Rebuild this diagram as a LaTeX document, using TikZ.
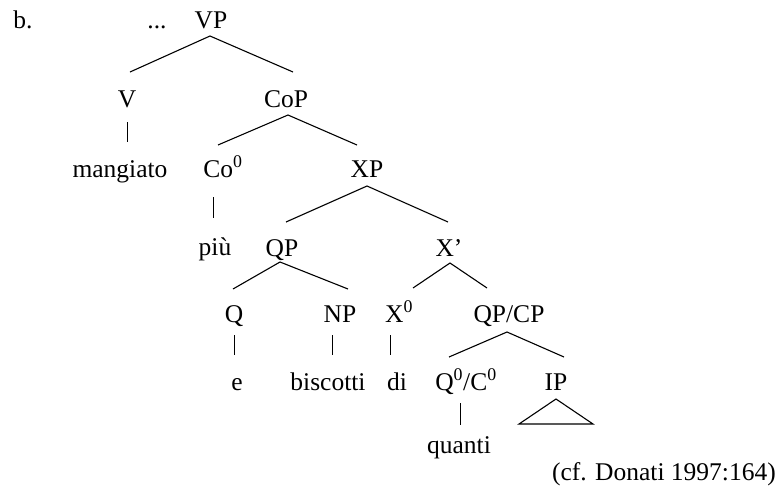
\documentclass[tikz,border=0pt]{standalone}
\usepackage{fontspec}
\setmainfont{Liberation Serif}
\usetikzlibrary{calc}
\tikzset{cat/.style = {inner sep=0pt, anchor=base},
         branch/.style = {draw, line width=1.1pt},
         bar/.style = {draw, line width=0.9pt}}

\begin{document}
\begin{tikzpicture}[x=1pt,y=-1pt,font=\fontsize{25.5}{30}\selectfont]
    \useasboundingbox (0,0) rectangle (781,491);
    \node[cat](ex)at(23,28){b.};
    \node[cat](dots)at(157,28){...};
    \node[cat](VP)at(211,28){VP};
    \node[cat](V)at(127,107){V};
    \node[cat](CoP)at(286,107){CoP};
    \node[cat](mangiato)at(120,177){mangiato};
    \node[cat](Co)at(223,177){Co\textsuperscript{0}};
    \node[cat](XP)at(367,177){XP};
    \node[cat](piu)at(215,255){più};
    \node[cat](QP)at(282,256){QP};
    \node[cat](Xbar)at(449,256){X’};
    \node[cat](Q)at(234,322){Q};
    \node[cat](NP)at(340,322){NP};
    \node[cat](X)at(399,322){X\textsuperscript{0}};
    \node[cat](QPCP)at(509,322){QP/CP};
    \node[cat](e)at(237,390){e};
    \node[cat](biscotti)at(328,390){biscotti};
    \node[cat](di)at(397,390){di};
    \node[cat](QC)at(466,390){Q\textsuperscript{0}/C\textsuperscript{0}};
    \node[cat](IP)at(556,390){IP};
    \node[cat](quanti)at(459,453){quanti};
    \node[cat,anchor=base east](cite)at(776,480){(cf. Donati 1997:164)};

    \draw[branch]($(V.base)+(3,-35)$)--($(VP.base)+(-1,8)$)--($(CoP.base)+(7,-35)$);
    \draw[branch]($(Co.base)+(-5,-32)$)--($(CoP.base)+(2,8)$)--($(XP.base)+(-10,-32)$);
    \draw[branch]($(QP.base)+(4,-34)$)--($(XP.base)+(0,9)$)--($(Xbar.base)+(-1,-34)$);
    \draw[branch]($(Q.base)+(-1,-33)$)--($(QP.base)+(-2,6)$)--($(NP.base)+(8,-33)$);
    \draw[branch]($(X.base)+(14,-34)$)--($(Xbar.base)+(1,7)$)--($(QPCP.base)+(-22,-34)$);
    \draw[branch]($(QC.base)+(-17,-33)$)--($(QPCP.base)+(-2,10)$)--($(IP.base)+(8,-33)$);

    \draw[bar]($(V.base)+(0,15)$)--($(mangiato.base)+(7,-35)$);
    \draw[bar]($(Co.base)+(-10,20)$)--($(piu.base)+(-2,-37)$);
    \draw[bar]($(Q.base)+(0,13)$)--($(e.base)+(-3,-35)$);
    \draw[bar]($(NP.base)+(-8,13)$)--($(biscotti.base)+(4,-35)$);
    \draw[bar]($(X.base)+(-9,13)$)--($(di.base)+(-7,-35)$);
    \draw[bar]($(QC.base)+(-6,13)$)--($(quanti.base)+(1,-28)$);

    \draw[branch]($(IP.base)+(0,9)$)--($(IP.base)+(-37,34)$)--($(IP.base)+(37,34)$)--cycle;
\end{tikzpicture}
\end{document}
